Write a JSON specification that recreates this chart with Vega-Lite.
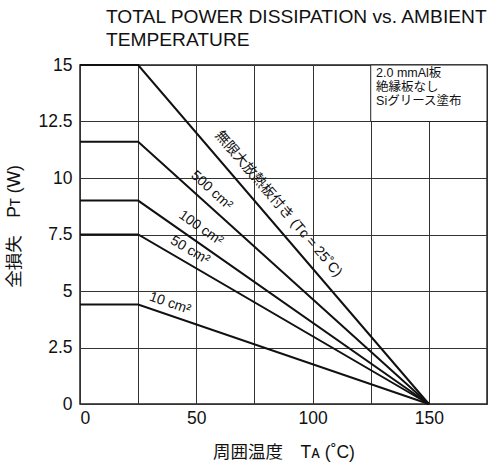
{
  "$schema": "https://vega.github.io/schema/vega-lite/v6.json",
  "width": 407,
  "height": 339,
  "autosize": {"type": "none"},
  "padding": {"left": 80, "top": 65, "right": 4, "bottom": 62},
  "background": "white",
  "config": {
    "font": "Liberation Sans, Noto Sans CJK JP",
    "view": {"stroke": "#222", "strokeWidth": 1.5},
    "axis": {
      "domain": false,
      "ticks": false,
      "grid": true,
      "gridColor": "#333",
      "gridWidth": 1,
      "gridOpacity": 1,
      "labelFont": "Liberation Sans",
      "labelFontSize": 17.5,
      "labelColor": "#111",
      "titleFont": "Liberation Sans, Noto Sans CJK JP",
      "titleFontSize": 17.5,
      "titleFontWeight": "normal",
      "titleColor": "#111"
    }
  },
  "title": {
    "text": ["TOTAL POWER DISSIPATION vs. AMBIENT", "TEMPERATURE"],
    "anchor": "start",
    "frame": "group",
    "dx": 26,
    "offset": 6,
    "fontSize": 19.2,
    "fontWeight": "normal",
    "font": "Liberation Sans",
    "color": "#111",
    "lineHeight": 23
  },
  "datasets": {
    "curves": [
      {"series": "inf", "t": 0, "p": 15},
      {"series": "inf", "t": 25, "p": 15},
      {"series": "inf", "t": 150, "p": 0},
      {"series": "500", "t": 0, "p": 11.6},
      {"series": "500", "t": 25, "p": 11.6},
      {"series": "500", "t": 150, "p": 0},
      {"series": "100", "t": 0, "p": 9.0},
      {"series": "100", "t": 25, "p": 9.0},
      {"series": "100", "t": 150, "p": 0},
      {"series": "50", "t": 0, "p": 7.5},
      {"series": "50", "t": 25, "p": 7.5},
      {"series": "50", "t": 150, "p": 0},
      {"series": "10", "t": 0, "p": 4.4},
      {"series": "10", "t": 25, "p": 4.4},
      {"series": "10", "t": 150, "p": 0}
    ],
    "labels": [
      {"label": "無限大放熱板付き (Tᴄ = 25˚C)", "t": 85.3, "p": 8.85, "angle": 49.4},
      {"label": "500 cm²", "t": 56.6, "p": 9.45, "angle": 42},
      {"label": "100 cm²", "t": 52, "p": 7.78, "angle": 35},
      {"label": "50 cm²", "t": 47.3, "p": 6.8, "angle": 30.3},
      {"label": "10 cm²", "t": 38.7, "p": 4.45, "angle": 18.9}
    ],
    "box": [
      {"t1": 125, "t2": 175, "p1": 12.5, "p2": 15}
    ],
    "note": [
      {"line": "2.0 mmAl板\n絶縁板なし\nSiグリース塗布", "t": 127.3, "p": 14.93}
    ]
  },
  "layer": [
    {
      "data": {"name": "curves"},
      "mark": {"type": "line", "color": "#111", "strokeWidth": 2},
      "encoding": {
        "x": {
          "field": "t", "type": "quantitative",
          "scale": {"domain": [0, 175], "nice": false},
          "axis": {
            "values": [0, 25, 50, 75, 100, 125, 150, 175],
            "labelExpr": "(datum.value % 50 == 0 && datum.value < 175) ? datum.label : ''",
            "labelPadding": 5,
            "title": "周囲温度　Tᴀ (˚C)",
            "titlePadding": 17
          }
        },
        "y": {
          "field": "p", "type": "quantitative",
          "scale": {"domain": [0, 15], "nice": false},
          "axis": {
            "values": [0, 2.5, 5, 7.5, 10, 12.5, 15],
            "format": ".3~g",
            "labelPadding": 8,
            "title": "全損失　Pᴛ (W)",
            "titleX": -66,
            "titleY": 161,
            "titleBaseline": "middle"
          }
        },
        "detail": {"field": "series"}
      }
    },
    {
      "data": {"name": "labels"},
      "mark": {"type": "text", "fontSize": 14, "color": "#111", "align": "center", "baseline": "middle", "font": "Liberation Sans, Noto Sans CJK JP"},
      "encoding": {
        "x": {"field": "t", "type": "quantitative"},
        "y": {"field": "p", "type": "quantitative"},
        "text": {"field": "label"},
        "angle": {"field": "angle", "type": "quantitative", "scale": null}
      }
    },
    {
      "data": {"name": "box"},
      "mark": {"type": "rect", "fill": "white", "stroke": "#222", "strokeWidth": 1},
      "encoding": {
        "x": {"field": "t1", "type": "quantitative"},
        "x2": {"field": "t2"},
        "y": {"field": "p1", "type": "quantitative"},
        "y2": {"field": "p2"}
      }
    },
    {
      "data": {"name": "note"},
      "mark": {"type": "text", "fontSize": 12.5, "lineBreak": "\n", "lineHeight": 14, "color": "#111", "align": "left", "baseline": "top", "font": "Liberation Sans, Noto Sans CJK JP"},
      "encoding": {
        "x": {"field": "t", "type": "quantitative"},
        "y": {"field": "p", "type": "quantitative"},
        "text": {"field": "line"}
      }
    }
  ]
}
